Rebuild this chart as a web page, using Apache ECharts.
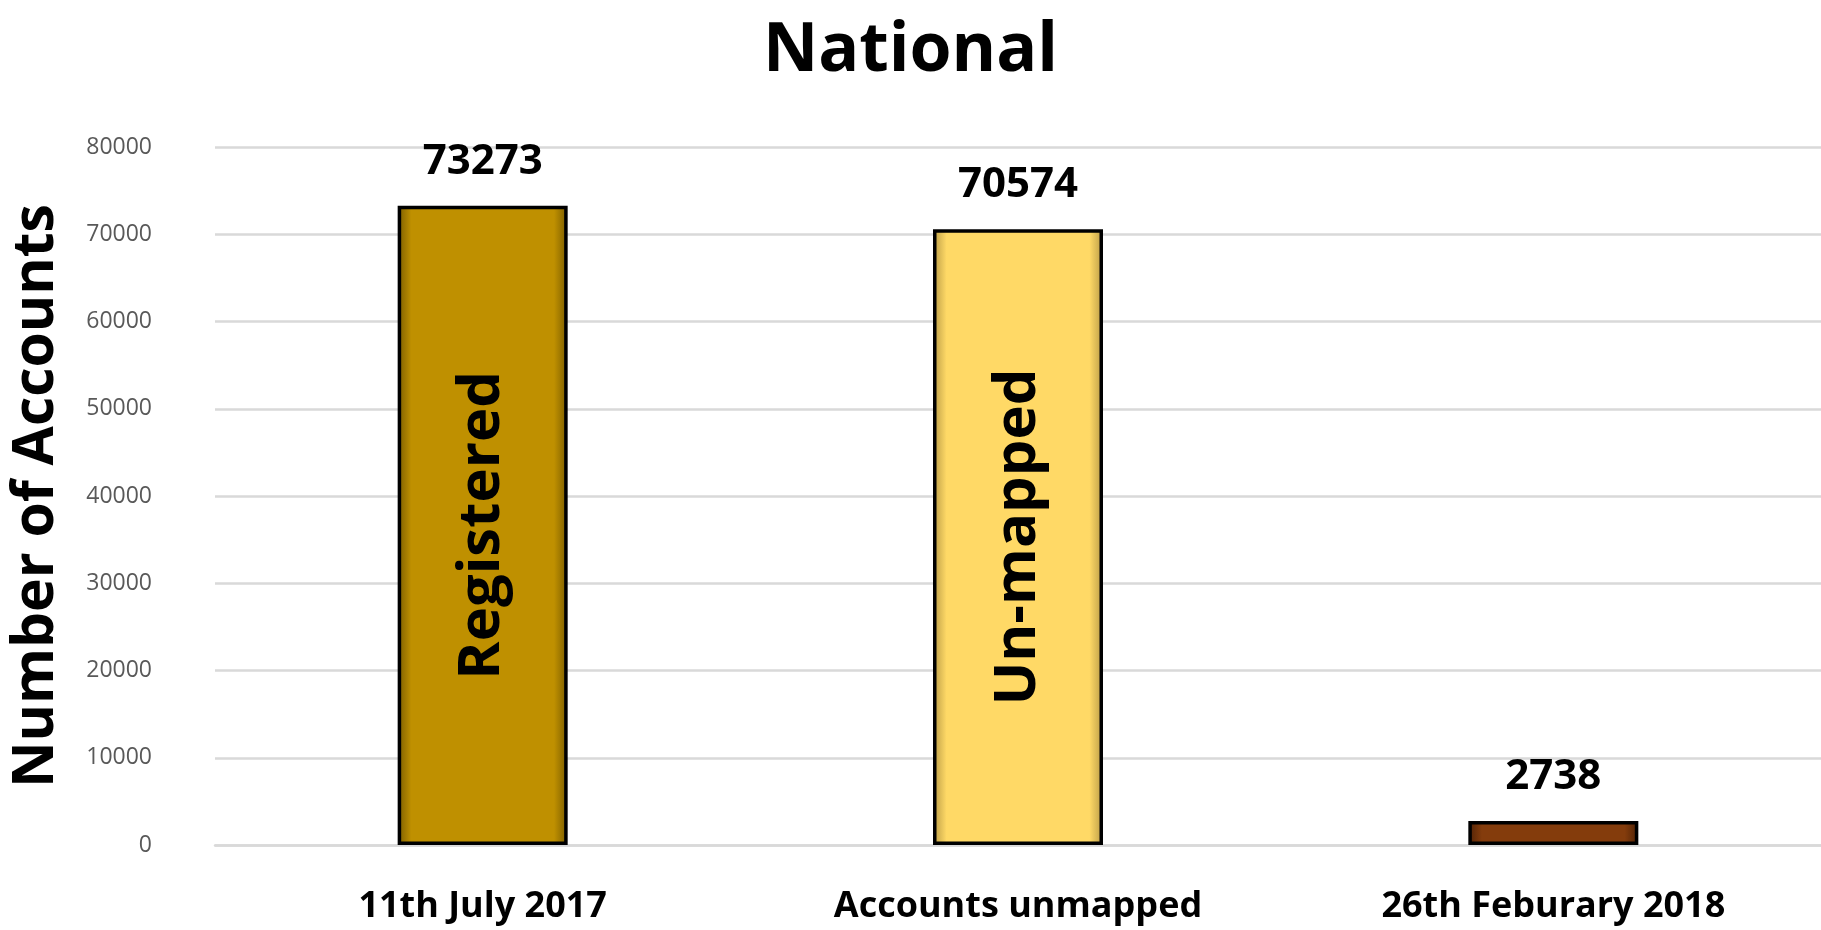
<!DOCTYPE html>
<html lang="en">
<head>
    <meta charset="UTF-8">
    <title>National</title>
    <script src="https://cdn.jsdelivr.net/npm/echarts@6/dist/echarts.min.js"></script>
    <style>
        html, body { margin: 0; padding: 0; background: #fff; }
    </style>
</head>
<body>
<div id="main" style="width: 1821px;height:930px;"></div>
<script type="text/javascript">
    // data
    var categories = ['11th July 2017', 'Accounts unmapped', '26th Feburary 2018'];
    var accounts = [73273, 70574, 2738];
    var barTags = ['Registered', 'Un-mapped', ''];
    var yTicks = [0, 80000, 10000]; // min, max, step

    var fills = ['#BF9000', '#FFD966', '#843C0C'];
    var edges = ['#7a5c00', '#b89a45', '#4f2206'];

    function edgeFill(i) {
        return {
            type: 'linear', x: 0, y: 0, x2: 1, y2: 0,
            colorStops: [
                { offset: 0, color: edges[i] },
                { offset: 0.08, color: fills[i] },
                { offset: 0.92, color: fills[i] },
                { offset: 1, color: edges[i] }
            ]
        };
    }

    var barData = accounts.map(function (v, i) {
        return { value: v, itemStyle: { color: edgeFill(i) } };
    });

    var myChart = echarts.init(document.getElementById('main'));

    myChart.setOption({
        animation: false,
        title: {
            text: 'National',
            left: 'center',
            top: 13,
            textStyle: {
                fontFamily: 'Open Sans',
                fontWeight: 'bold',
                fontSize: 68,
                color: '#000'
            }
        },
        grid: {
            left: 210,
            right: 0,
            top: 147,
            bottom: 85
        },
        xAxis: {
            type: 'category',
            data: categories,
            axisLine: { show: true, lineStyle: { color: '#d9d9d9', width: 2.5 } },
            axisTick: { show: false },
            axisLabel: {
                margin: 44,
                fontFamily: 'Open Sans',
                fontWeight: 'bold',
                fontSize: 36,
                color: '#000'
            }
        },
        yAxis: {
            type: 'value',
            min: yTicks[0],
            max: yTicks[1],
            interval: yTicks[2],
            name: 'Number of Accounts',
            nameLocation: 'middle',
            nameGap: 150,
            nameTextStyle: {
                fontFamily: 'Open Sans',
                fontWeight: 'bold',
                fontSize: 57,
                color: '#000'
            },
            axisLine: { show: false },
            axisTick: { show: false },
            axisLabel: {
                margin: 63,
                fontFamily: 'Open Sans',
                fontSize: 23,
                color: '#595959',
                formatter: function (v) { return String(v); }
            },
            splitLine: { lineStyle: { color: '#d9d9d9', width: 2.5 } }
        },
        series: [
            {
                type: 'bar',
                data: barData,
                barWidth: 170,
                itemStyle: { borderColor: '#000', borderWidth: 3.5 },
                label: {
                    show: true,
                    position: 'top',
                    distance: 23,
                    fontFamily: 'Open Sans',
                    fontWeight: 'bold',
                    fontSize: 42,
                    color: '#000'
                }
            },
            {
                // overlay carrying the text written inside the bars
                type: 'bar',
                data: accounts,
                barWidth: 170,
                barGap: '-100%',
                silent: true,
                itemStyle: { color: 'rgba(0,0,0,0)' },
                label: {
                    show: true,
                    position: 'inside',
                    rotate: 90,
                    formatter: function (p) { return barTags[p.dataIndex]; },
                    fontFamily: 'Open Sans',
                    fontWeight: 'bold',
                    fontSize: 58,
                    color: '#000'
                }
            }
        ]
    });
</script>
</body>
</html>
